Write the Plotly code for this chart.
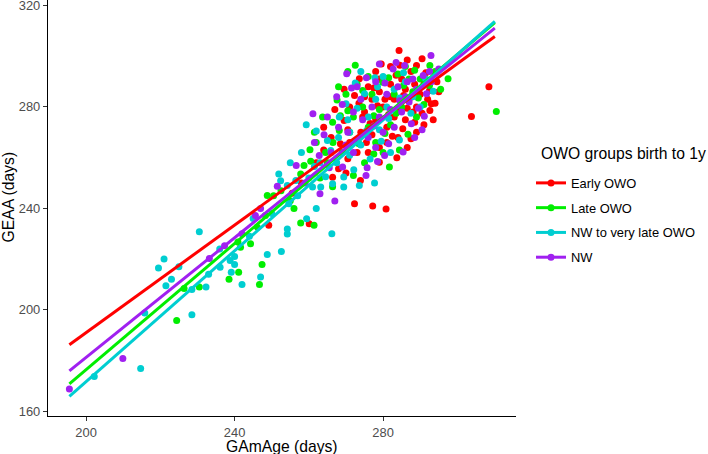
import plotly.graph_objects as go

groups = ["Early OWO", "Late OWO", "NW to very late OWO", "NW"]
colors = ["#FF0000", "#00EE00", "#00CED1", "#A020F0"]

red_x = [284.3, 289.0, 287.5, 291.5, 285.0, 273.6, 269.5, 272.3, 276.0, 279.0, 282.0, 286.0, 288.5, 290.0,
         293.0, 294.0, 292.6, 293.5, 288.1, 285.3, 283.0, 280.0, 277.0, 275.0, 278.0, 281.0, 284.0, 283.7,
         279.0, 286.5, 289.0, 291.0, 273.9, 272.3, 277.2, 280.8, 270.5, 268.0, 266.4, 270.0, 269.5, 266.0,
         264.0, 262.0, 271.0, 274.0, 276.0, 281.0, 287.0, 283.0, 279.0, 295.0, 294.5, 290.5, 282.0, 278.0,
         275.0, 286.0, 289.0, 260.1, 249.2, 308.5, 303.8, 267.0, 271.0, 264.0, 277.0, 284.0, 291.0, 258.0,
         255.5, 273.0, 282.0, 292.0, 279.0,
         274.5, 277.5, 280.5, 283.5, 286.5, 288.5, 290.5, 292.5, 285.5, 281.5, 278.5, 276.5, 273.5, 270.5,
         268.5, 275.5, 282.5, 287.5, 284.5, 279.5, 286.5]
red_y = [302.3, 296.4, 294.0, 293.5, 291.0, 291.1, 287.0, 284.5, 288.0, 286.0, 289.0, 287.0, 289.0, 285.0,
         281.3, 281.5, 278.6, 275.0, 278.0, 271.4, 276.0, 280.0, 283.0, 278.0, 275.0, 272.0, 268.0, 260.0,
         258.2, 264.0, 270.0, 273.0, 251.0, 241.8, 240.9, 239.8, 259.6, 255.6, 252.3, 254.0, 274.7, 268.0,
         263.0, 258.0, 266.0, 270.0, 262.0, 266.0, 283.0, 283.0, 291.0, 286.0, 290.0, 299.0, 296.0, 294.0,
         284.0, 275.0, 280.0, 233.9, 233.3, 288.0, 276.2, 279.0, 280.0, 272.0, 269.0, 279.0, 289.0, 250.0,
         246.0, 262.0, 284.0, 283.0, 264.0,
         276.0, 287.5, 283.0, 292.5, 279.5, 274.0, 277.5, 286.5, 284.5, 277.0, 280.5, 273.5, 281.5, 271.0,
         265.5, 266.0, 268.5, 267.5, 296.5, 297.0, 298.5]

green_x = [224.4, 230.5, 241.1, 246.7, 247.4, 244.3, 241.6, 240.9, 246.1, 248.3, 248.8, 250.5, 257.8, 261.4,
           257.8, 258.7, 260.5, 260.3, 263.7, 266.4, 267.6, 268.2, 266.4, 274.5, 279.9, 292.6, 297.5, 310.5,
           286.7, 281.7, 284.4, 270.0, 272.0, 276.0, 278.0, 280.0, 283.0, 285.0, 288.0, 290.0, 294.0, 289.0,
           276.0, 273.0, 271.0, 269.0, 265.0, 263.0, 262.0, 268.0, 279.0, 282.0, 287.0, 291.0, 284.0, 275.0,
           272.0, 255.0, 252.5, 238.5, 226.4, 256.0, 277.0, 286.0, 270.5,
           266.5, 270.5, 274.5, 277.5, 281.5, 285.5, 289.5, 292.5, 283.5, 280.5, 277.5, 273.5, 268.5, 264.5,
           261.5, 272.5, 288.5, 295.5]
green_y = [195.8, 209.0, 214.8, 210.0, 217.9, 226.0, 224.7, 226.7, 232.6, 237.2, 245.1, 245.0, 234.2, 233.3,
           253.6, 256.9, 258.6, 263.1, 276.0, 274.0, 282.8, 270.7, 248.5, 280.0, 289.8, 296.4, 291.1, 278.2,
           269.2, 256.3, 263.0, 285.0, 276.0, 272.0, 266.0, 262.0, 285.0, 280.0, 286.0, 291.0, 294.0, 276.0,
           292.0, 289.0, 270.0, 262.0, 258.0, 252.0, 266.0, 288.0, 279.0, 273.0, 291.0, 281.0, 293.0, 258.0,
           253.0, 243.0, 247.0, 212.0, 208.4, 240.0, 285.0, 296.0, 294.0,
           266.0, 278.5, 286.5, 276.5, 291.5, 288.5, 283.5, 288.5, 277.5, 269.5, 261.5, 265.5, 276.5, 262.0,
           270.0, 296.5, 294.5, 287.0]

cyan_x = [202.2, 214.7, 215.8, 228.5, 228.5, 232.3, 236.1, 238.8, 240.0, 240.0, 239.1, 242.0, 247.0, 248.8,
          252.6, 230.5, 219.5, 221.0, 223.0, 225.0, 221.5, 251.9, 252.4, 254.2, 254.6, 259.4, 254.2, 254.2,
          266.2, 263.2, 266.4, 269.4, 261.0, 259.3, 265.9, 265.0, 268.2, 270.0, 269.4, 273.6, 277.7, 272.1,
          277.8, 275.0, 293.5, 284.4, 271.0, 274.0, 276.0, 279.0, 281.0, 283.0, 286.0, 288.0, 290.0, 280.0,
          274.0, 278.0, 282.0, 271.0, 268.0, 263.0, 257.0, 260.0, 258.0, 255.0, 262.0, 245.0, 250.0, 236.0,
          244.0, 233.0,
          267.5, 270.5, 273.0, 275.5, 278.5, 281.5, 284.5, 287.5, 291.5, 276.5, 264.5, 262.0, 256.5, 261.5,
          279.5, 272.5, 285.5]
cyan_y = [173.7, 176.8, 198.7, 198.0, 208.0, 209.0, 216.8, 219.4, 221.0, 217.9, 214.8, 210.0, 212.9, 221.8,
          223.0, 230.8, 216.5, 220.0, 212.0, 217.0, 209.5, 253.6, 250.9, 249.0, 241.8, 235.9, 231.9, 229.9,
          230.0, 248.4, 249.7, 248.4, 248.4, 273.0, 262.8, 266.8, 276.0, 281.3, 252.4, 249.0, 250.0, 255.2,
          291.5, 285.2, 286.2, 267.0, 270.0, 265.0, 276.0, 271.0, 280.0, 287.0, 290.0, 284.0, 280.0, 292.0,
          294.0, 283.0, 262.0, 261.0, 268.0, 258.0, 245.0, 252.0, 262.0, 258.0, 240.0, 236.0, 238.0, 224.0,
          229.0, 214.0,
          258.0, 275.0, 279.5, 270.5, 288.0, 275.5, 283.5, 277.5, 291.0, 259.5, 252.5, 270.5, 251.0, 256.5,
          266.5, 289.5, 293.5]

purple_x = [195.5, 209.9, 237.3, 233.2, 245.6, 251.5, 256.6, 261.1, 262.8, 263.0, 267.0, 264.1, 269.1, 270.2,
            282.7, 285.8, 292.9, 290.8, 291.1, 287.6, 285.4, 280.4, 275.7, 275.4, 291.7, 272.0, 274.0, 277.0,
            279.0, 281.0, 284.0, 287.0, 289.0, 293.0, 295.0, 276.0, 280.0, 283.0, 270.0, 268.0, 266.0, 272.0,
            278.0, 285.0, 288.0, 278.0, 273.0, 269.0, 282.0, 286.0, 259.0, 265.0, 288.5, 279.0, 247.0, 242.0,
            267.5, 271.5, 275.5, 277.5, 281.5, 284.5, 289.5, 292.5, 286.5, 280.5, 274.5, 270.5, 265.5, 261.5,
            283.5, 278.5, 290.5]
purple_y = [168.8, 180.8, 225.3, 220.2, 237.2, 248.7, 256.9, 277.3, 260.9, 245.8, 242.9, 269.0, 256.3, 293.1,
            295.0, 296.4, 300.3, 292.4, 276.3, 273.4, 262.2, 260.9, 256.0, 253.0, 285.2, 278.0, 283.0, 280.0,
            276.0, 285.0, 288.0, 282.0, 287.0, 290.0, 295.0, 268.0, 270.0, 272.0, 265.0, 272.0, 262.0, 262.0,
            264.0, 278.0, 291.0, 290.0, 288.0, 281.0, 279.0, 284.0, 250.0, 276.0, 268.0, 297.0, 240.0, 230.0,
            284.0, 287.5, 291.5, 272.5, 265.5, 282.5, 279.5, 294.0, 290.0, 289.5, 275.0, 270.0, 256.0, 266.0,
            297.5, 258.5, 271.0]

# fitted regression lines (values read at the ends of the data range)
fit_x = [195.5, 310.1]
red_fit = [186.2, 307.8]
green_fit = [170.8, 313.3]
cyan_fit = [165.8, 313.8]
purple_fit = [175.9, 311.1]

legend_title = "OWO groups birth to 1y"
x_title = "GAmAge (days)"
y_title = "GEAA (days)"

xs = [red_x, green_x, cyan_x, purple_x]
ys = [red_y, green_y, cyan_y, purple_y]
fits = [red_fit, green_fit, cyan_fit, purple_fit]

FONT = "Liberation Sans, Arial, sans-serif"
W, H = 708, 454
TXT = 12.9
TTL = 15.7

fig = go.Figure()
for g, c, x, y in zip(groups, colors, xs, ys):
    fig.add_trace(go.Scatter(x=x, y=y, mode="markers", marker=dict(color=c, size=7, line=dict(width=0)),
                             showlegend=False, legendgroup=g, hoverinfo="skip"))
for g, c, f in zip(groups, colors, fits):
    fig.add_trace(go.Scatter(x=fit_x, y=f, mode="lines", line=dict(color=c, width=3),
                             showlegend=False, legendgroup=g, hoverinfo="skip"))
for g, c in zip(groups, colors):
    fig.add_trace(go.Scatter(x=[None], y=[None], mode="lines+markers", name=g, legendgroup=g,
                             line=dict(color=c, width=3), marker=dict(color=c, size=7)))

axis_common = dict(showgrid=False, zeroline=False, showline=True, linecolor="black", linewidth=1.3,
                   ticks="outside", ticklen=4, tickwidth=1.1, tickcolor="#333333", automargin=False,
                   ticklabeloverflow="allow",
                   tickfont=dict(family=FONT, size=TXT, color="#4D4D4D"), mirror=False)

pl, pr, pt, pb = 48, 192, 0, 38
pw, ph = W - pl - pr, H - pt - pb


def ax(px):
    return (px - pl) / pw


def ay(py):
    return 1 - (py - pt) / ph


fig.update_layout(
    width=W, height=H,
    margin=dict(l=pl, r=pr, t=pt, b=pb, autoexpand=False),
    paper_bgcolor="white", plot_bgcolor="white",
    font=dict(family=FONT),
    hovermode=False,
    xaxis=dict(range=[189.74, 315.8], tickvals=[200, 240, 280], **axis_common),
    yaxis=dict(range=[158.1, 322.2], tickvals=[160, 200, 240, 280, 320], **axis_common),
    legend=dict(x=531 / W, xref="container", y=1 - 168 / H, yref="container",
                yanchor="top", xanchor="left",
                font=dict(family=FONT, size=TXT, color="black"), tracegroupgap=5,
                bgcolor="rgba(0,0,0,0)"),
    annotations=[
        dict(text=legend_title, x=ax(539), y=ay(153), xref="paper", yref="paper", showarrow=False,
             xanchor="left", yanchor="middle", font=dict(family=FONT, size=TTL, color="black")),
        dict(text=x_title, x=ax(282), y=ay(446), xref="paper", yref="paper", showarrow=False,
             xanchor="center", yanchor="middle", font=dict(family=FONT, size=TTL, color="black")),
        dict(text=y_title, x=ax(8), y=ay(197.5), xref="paper", yref="paper", showarrow=False,
             xanchor="center", yanchor="middle", textangle=-90,
             font=dict(family=FONT, size=TTL, color="black")),
    ],
)

fig.write_html("out.html", config={"displayModeBar": False},
               post_script="document.body.style.margin='0';document.body.style.overflow='hidden';")
